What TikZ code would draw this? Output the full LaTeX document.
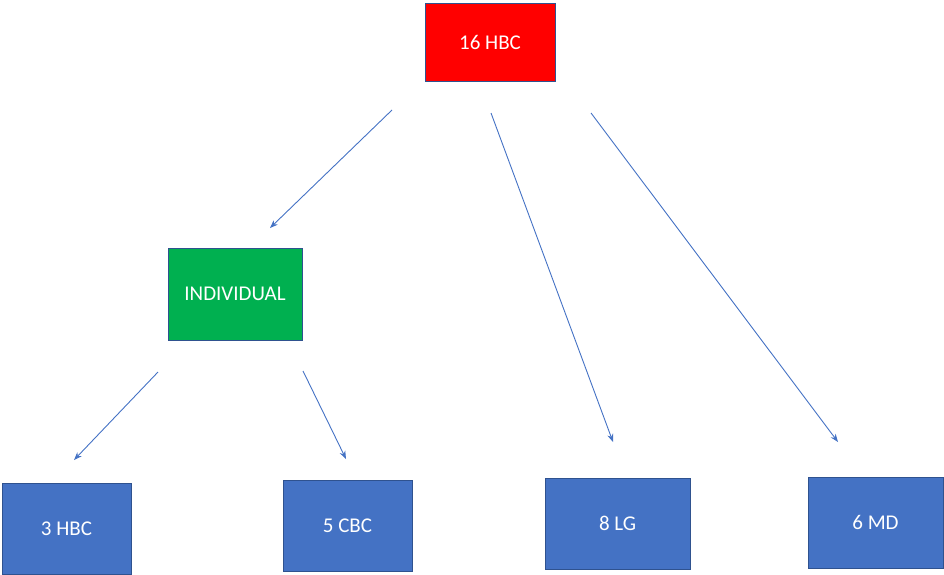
\documentclass[tikz,border=0pt]{standalone}
\usepackage{fontspec}
\setmainfont{Carlito}
\usetikzlibrary{arrows.meta}
\definecolor{hbcred}{HTML}{FF0000}
\definecolor{indgreen}{HTML}{00B050}
\definecolor{leafblue}{HTML}{4472C4}
\definecolor{edgeblue}{HTML}{2F528F}
\tikzset{
  box/.style={draw=edgeblue, line width=1pt, text=white, font=\fontsize{21}{24}\selectfont, inner sep=0pt},
  link/.style={draw=leafblue, line width=0.9pt, -{Stealth[length=8pt,width=6pt]}}
}
\begin{document}
\begin{tikzpicture}[x=1pt,y=-1pt]
\path[use as bounding box] (0,0) rectangle (944,574);
\node[box, fill=hbcred, minimum width=130, minimum height=78] (hbc16) at (490,42) {16 HBC};
\node[box, fill=indgreen, minimum width=134, minimum height=92] (indiv) at (235,294) {INDIVIDUAL};
\node[box, fill=leafblue, minimum width=129, minimum height=91] (hbc3) at (66.5,528.5) {3 HBC};
\node[box, fill=leafblue, minimum width=129, minimum height=91] (cbc5) at (347.5,525.5) {5 CBC};
\node[box, fill=leafblue, minimum width=145, minimum height=91] (lg8) at (617.5,523.5) {8 LG};
\node[box, fill=leafblue, minimum width=135, minimum height=91] (md6) at (875.5,522.5) {6 MD};
% free arrow ends
\coordinate (a1s) at (392,110); \coordinate (a1e) at (270,228);
\coordinate (a2s) at (491,113); \coordinate (a2e) at (613,442);
\coordinate (a3s) at (591,113); \coordinate (a3e) at (838,442);
\coordinate (a4s) at (158,372); \coordinate (a4e) at (74,460);
\coordinate (a5s) at (303,371); \coordinate (a5e) at (346,459);
\draw[link] (a1s) -- (a1e);
\draw[link] (a2s) -- (a2e);
\draw[link] (a3s) -- (a3e);
\draw[link] (a4s) -- (a4e);
\draw[link] (a5s) -- (a5e);
\end{tikzpicture}
\end{document}
